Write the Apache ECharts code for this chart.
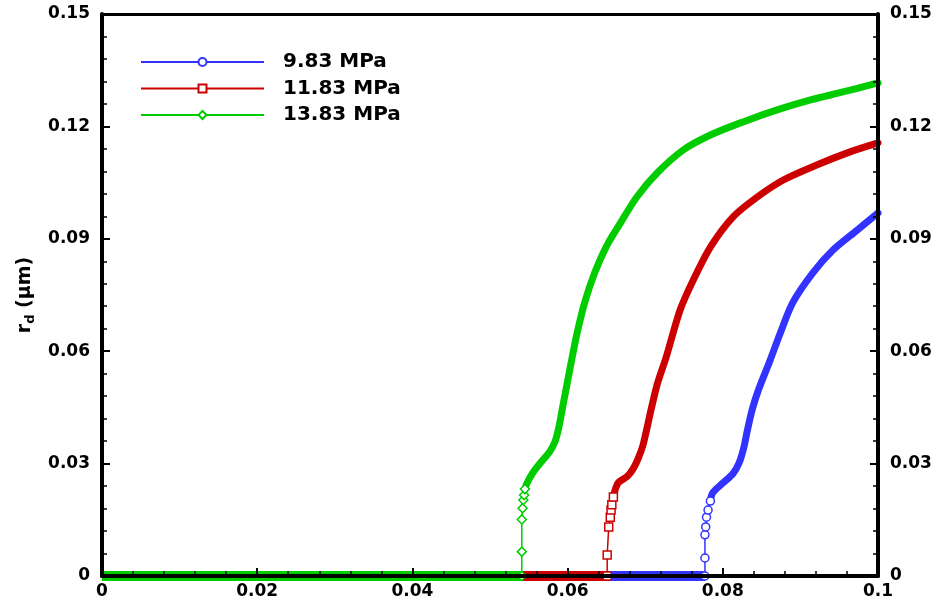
<!DOCTYPE html>
<html>
<head>
<meta charset="utf-8">
<script src="https://cdn.jsdelivr.net/npm/echarts@6/dist/echarts.min.js"></script>
<style>
html,body{margin:0;padding:0;background:#fff;}
#c{width:941px;height:605px;}
</style>
</head>
<body>
<div id="c"></div>
<script>
// ---- data ----
const seriesNames = ['9.83 MPa', '11.83 MPa', '13.83 MPa'];
const seriesColors = ['#3333ff', '#cc0000', '#00cc00'];
const seriesSymbols = ['circle', 'rect', 'diamond'];

const xTickLabels = ['0', '0.02', '0.04', '0.06', '0.08', '0.1'];
const yTickLabels = ['0', '0.03', '0.06', '0.09', '0.12', '0.15'];

// onset x where r_d leaves zero
const onset983 = 0.0777;
const onset1183 = 0.0651;
const onset1383 = 0.0541;

// sparse jump points (visible markers)
const jump983 = [[0.0777,0],[0.0777,0.0048],[0.0777,0.0110],[0.0778,0.0131],[0.0779,0.0157],[0.0781,0.0176],[0.0784,0.0200]];
const jump1183 = [[0.0651,0],[0.0651,0.0056],[0.0653,0.0131],[0.0655,0.0157],[0.0656,0.0176],[0.0657,0.0190],[0.0659,0.0211]];
const jump1383 = [[0.0541,0],[0.0541,0.0065],[0.0541,0.0151],[0.0542,0.0181],[0.0543,0.0203],[0.0544,0.0216],[0.0545,0.0232]];

// dense part of each curve
const curve983 = [[0.0784,0.0200],[0.0787,0.0222],[0.0800,0.0248],[0.0813,0.0273],[0.0821,0.0302],[0.0827,0.0342],[0.0832,0.0392],[0.0838,0.0445],[0.0846,0.0497],[0.0861,0.0576],[0.0874,0.0648],[0.0890,0.0729],[0.0916,0.0809],[0.0942,0.0870],[0.0973,0.0923],[0.1000,0.0969]];
const curve1183 = [[0.0659,0.0211],[0.0665,0.0248],[0.0677,0.0266],[0.0685,0.0288],[0.0691,0.0314],[0.0697,0.0348],[0.0702,0.0392],[0.0708,0.0448],[0.0716,0.0515],[0.0727,0.0584],[0.0745,0.0710],[0.0762,0.0790],[0.0784,0.0878],[0.0813,0.0958],[0.0844,0.1011],[0.0878,0.1057],[0.0921,0.1097],[0.0964,0.1132],[0.1000,0.1156]];
const curve1383 = [[0.0545,0.0232],[0.0547,0.0245],[0.0555,0.0275],[0.0567,0.0307],[0.0577,0.0332],[0.0584,0.0360],[0.0589,0.0400],[0.0594,0.0455],[0.0600,0.0520],[0.0606,0.0585],[0.0613,0.0655],[0.0622,0.0730],[0.0635,0.0810],[0.0650,0.0880],[0.0668,0.0942],[0.0689,0.1011],[0.0715,0.1075],[0.0749,0.1137],[0.0784,0.1177],[0.0826,0.1212],[0.0870,0.1244],[0.0912,0.1270],[0.0955,0.1292],[0.1000,0.1316]];

const onsets = [onset983, onset1183, onset1383];
const jumps = [jump983, jump1183, jump1383];
const curves = [curve983, curve1183, curve1383];

const FONT = 'DejaVu Sans';

const series = [];
for (let i = 0; i < 3; i++) {
  const c = seriesColors[i];
  // zero band
  series.push({
    type: 'line', z: 2 + i, silent: true, symbol: 'none', clip: false,
    data: [[0, 0], [onsets[i], 0]],
    lineStyle: { color: c, width: 10 }, animation: false
  });
  // thick dense band
  series.push({
    type: 'line', z: 2 + i, silent: true, symbol: 'none', clip: false,
    smooth: 0.3,
    data: curves[i],
    lineStyle: { color: c, width: 7, cap: 'round', join: 'round' }, animation: false
  });
  // thin line with hollow markers (legend entry)
  series.push({
    name: seriesNames[i], type: 'line', z: 2 + i,
    data: jumps[i],
    symbol: seriesSymbols[i], symbolSize: i === 2 ? 9 : 8, showAllSymbol: true,
    itemStyle: { color: '#ffffff', opacity: 1, borderColor: c, borderWidth: 1.5 },
    lineStyle: { color: c, width: 1.5 }, animation: false
  });
}

const chart = echarts.init(document.getElementById('c'), null, { renderer: 'canvas' });
chart.setOption({
  backgroundColor: '#ffffff',
  animation: false,
  grid: { left: 102, right: 63, top: 14, bottom: 29, containLabel: false },
  legend: {
    data: seriesNames, orient: 'vertical', left: 140, top: 52, padding: 0,
    itemWidth: 123, itemHeight: 10, itemGap: 6.5,
    textStyle: { fontFamily: FONT, fontWeight: 'bold', fontSize: 20, color: '#000', padding: [0, 0, 0, 14] }
  },
  xAxis: [{
    type: 'value', min: 0, max: 0.1, interval: 0.02, z: 10,
    axisLine: { show: true, onZero: false, lineStyle: { color: '#000', width: 4 } },
    axisTick: { show: true, inside: true, length: 8, lineStyle: { color: '#000', width: 2 } },
    minorTick: { show: true, splitNumber: 5, length: 5, lineStyle: { color: '#000', width: 1.5 } },
    splitLine: { show: false },
    axisLabel: { margin: 7, fontFamily: FONT, fontWeight: 'bold', fontSize: 17, color: '#000',
      formatter: (v) => xTickLabels[Math.round(v / 0.02)] },
  }, {
    type: 'value', min: 0, max: 0.1, position: 'top', z: 10,
    axisLine: { show: true, onZero: false, lineStyle: { color: '#000', width: 3 } },
    axisTick: { show: false }, axisLabel: { show: false }, splitLine: { show: false }
  }],
  yAxis: [{
    type: 'value', min: 0, max: 0.15, interval: 0.03, z: 10,
    name: '{r|r}{d|d}{r| (μm)}', nameLocation: 'middle', nameGap: 55, nameRotate: 90,
    nameTextStyle: {
      rich: {
        r: { fontFamily: FONT, fontSize: 19, fontWeight: 'bold', color: '#000', lineHeight: 24 },
        d: { fontFamily: FONT, fontSize: 13, fontWeight: 'bold', color: '#000', padding: [12, 0, 0, 0] }
      }
    },
    axisLine: { show: true, onZero: false, lineStyle: { color: '#000', width: 4 } },
    axisTick: { show: true, inside: true, length: 8, lineStyle: { color: '#000', width: 2 } },
    minorTick: { show: true, splitNumber: 5, length: 5, lineStyle: { color: '#000', width: 1.5 } },
    splitLine: { show: false },
    axisLabel: { margin: 12, fontFamily: FONT, fontWeight: 'bold', fontSize: 17, color: '#000',
      formatter: (v) => yTickLabels[Math.round(v / 0.03)] }
  }, {
    type: 'value', min: 0, max: 0.15, interval: 0.03, position: 'right', z: 10,
    axisLine: { show: true, onZero: false, lineStyle: { color: '#000', width: 4 } },
    axisTick: { show: true, inside: true, length: 8, lineStyle: { color: '#000', width: 2 } },
    minorTick: { show: true, splitNumber: 5, length: 5, lineStyle: { color: '#000', width: 1.5 } },
    splitLine: { show: false },
    axisLabel: { margin: 12, fontFamily: FONT, fontWeight: 'bold', fontSize: 17, color: '#000',
      formatter: (v) => yTickLabels[Math.round(v / 0.03)] }
  }],
  series: series
});
</script>
</body>
</html>
